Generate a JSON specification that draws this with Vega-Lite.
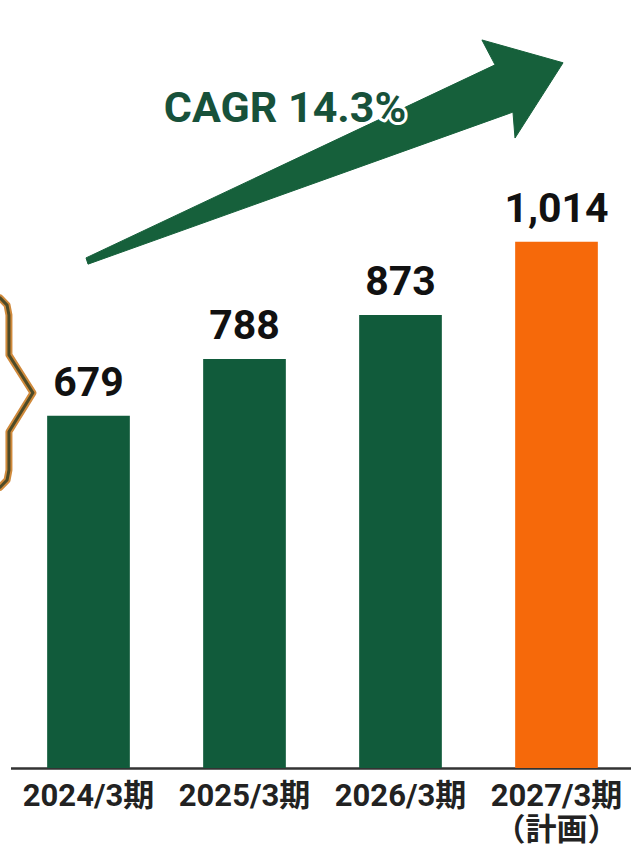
{
  "$schema": "https://vega.github.io/schema/vega-lite/v6.json",
  "width": 624,
  "height": 768,
  "autosize": {"type": "none"},
  "padding": {"left": 10.5, "top": 0, "right": 0, "bottom": 78},
  "background": "white",
  "config": {"view": {"stroke": null}, "font": "Roboto"},
  "datasets": {
    "bars": [
      {"period": "2024/3期", "value": 679, "kind": "実績"},
      {"period": "2025/3期", "value": 788, "kind": "実績"},
      {"period": "2026/3期", "value": 873, "kind": "実績"},
      {"period": "2027/3期", "value": 1014, "kind": "計画"}
    ],
    "arrow": [
      {"i": 1, "u": 0.484, "v": 983},
      {"i": 2, "u": 3.106, "v": 1355},
      {"i": 3, "u": 3.022, "v": 1403},
      {"i": 4, "u": 3.542, "v": 1359},
      {"i": 5, "u": 3.234, "v": 1214},
      {"i": 6, "u": 3.221, "v": 1264},
      {"i": 7, "u": 0.497, "v": 971},
      {"i": 8, "u": 0.484, "v": 983}
    ],
    "brace": [
      {"i": 1, "u": -0.067, "v": 906},
      {"i": 2, "u": -0.022, "v": 892},
      {"i": 3, "u": -0.010, "v": 873},
      {"i": 4, "u": -0.010, "v": 796},
      {"i": 5, "u": 0.144, "v": 723},
      {"i": 6, "u": -0.010, "v": 648},
      {"i": 7, "u": -0.010, "v": 574},
      {"i": 8, "u": -0.022, "v": 555},
      {"i": 9, "u": -0.067, "v": 541}
    ]
  },
  "layer": [
    {
      "data": {"name": "bars"},
      "encoding": {
        "x": {
          "field": "period", "type": "nominal", "sort": null,
          "scale": {"paddingInner": 0.47, "paddingOuter": 0.235},
          "axis": {
            "title": null, "ticks": false, "grid": false,
            "domainColor": "#333333", "domainWidth": 2.5,
            "labelAngle": 0, "labelFont": "Roboto, Noto Sans CJK JP", "labelFontSize": 31,
            "labelFontWeight": "bold", "labelColor": "#222222", "labelPadding": 13,
            "labelLineHeight": 34,
            "labelExpr": "datum.value === '2027/3期' ? ['2027/3期', '（計画）'] : datum.value"
          }
        },
        "y": {"field": "value", "type": "quantitative", "scale": {"domain": [0, 1480], "nice": false}, "axis": null}
      },
      "layer": [
        {
          "mark": {"type": "bar"},
          "encoding": {
            "color": {"field": "kind", "type": "nominal", "scale": {"domain": ["実績", "計画"], "range": ["#115b3b", "#f6690a"]}, "legend": null}
          }
        },
        {
          "mark": {"type": "text", "font": "Roboto", "fontSize": 41, "fontWeight": "bold", "color": "#111111", "baseline": "alphabetic", "dy": -20},
          "encoding": {
            "text": {"field": "value", "type": "quantitative", "format": ","}
          }
        }
      ]
    },
    {
      "layer": [
        {
          "data": {"name": "arrow"},
          "mark": {"type": "line", "fill": "#16603b", "stroke": "#16603b", "strokeWidth": 1, "strokeJoin": "miter"},
          "encoding": {
            "x": {"field": "u", "type": "quantitative", "scale": {"domain": [0, 4], "nice": false, "zero": false}, "axis": null},
            "y": {"field": "v", "type": "quantitative"},
            "order": {"field": "i", "type": "quantitative"}
          }
        },
        {
          "data": {"name": "brace"},
          "mark": {"type": "line", "stroke": "#d08a3c", "strokeWidth": 7, "strokeJoin": "round", "strokeCap": "round"},
          "encoding": {
            "x": {"field": "u", "type": "quantitative"},
            "y": {"field": "v", "type": "quantitative"},
            "order": {"field": "i", "type": "quantitative"}
          }
        },
        {
          "data": {"name": "brace"},
          "mark": {"type": "line", "stroke": "#4d4a26", "strokeWidth": 3, "strokeJoin": "round", "strokeCap": "round"},
          "encoding": {
            "x": {"field": "u", "type": "quantitative"},
            "y": {"field": "v", "type": "quantitative"},
            "order": {"field": "i", "type": "quantitative"}
          }
        },
        {
          "data": {"values": [{"label": "CAGR 14.3%"}]},
          "mark": {"type": "text", "font": "Roboto", "fontSize": 43, "fontWeight": "bold", "fill": "#17513a", "stroke": "white", "strokeWidth": 6, "strokeJoin": "round", "align": "center", "baseline": "alphabetic"},
          "encoding": {
            "x": {"datum": 1.76, "type": "quantitative"},
            "y": {"datum": 1245, "type": "quantitative"},
            "text": {"field": "label"}
          }
        },
        {
          "data": {"values": [{"label": "CAGR 14.3%"}]},
          "mark": {"type": "text", "font": "Roboto", "fontSize": 43, "fontWeight": "bold", "fill": "#17513a", "align": "center", "baseline": "alphabetic"},
          "encoding": {
            "x": {"datum": 1.76, "type": "quantitative"},
            "y": {"datum": 1245, "type": "quantitative"},
            "text": {"field": "label"}
          }
        }
      ]
    }
  ],
  "resolve": {"scale": {"x": "independent"}}
}
